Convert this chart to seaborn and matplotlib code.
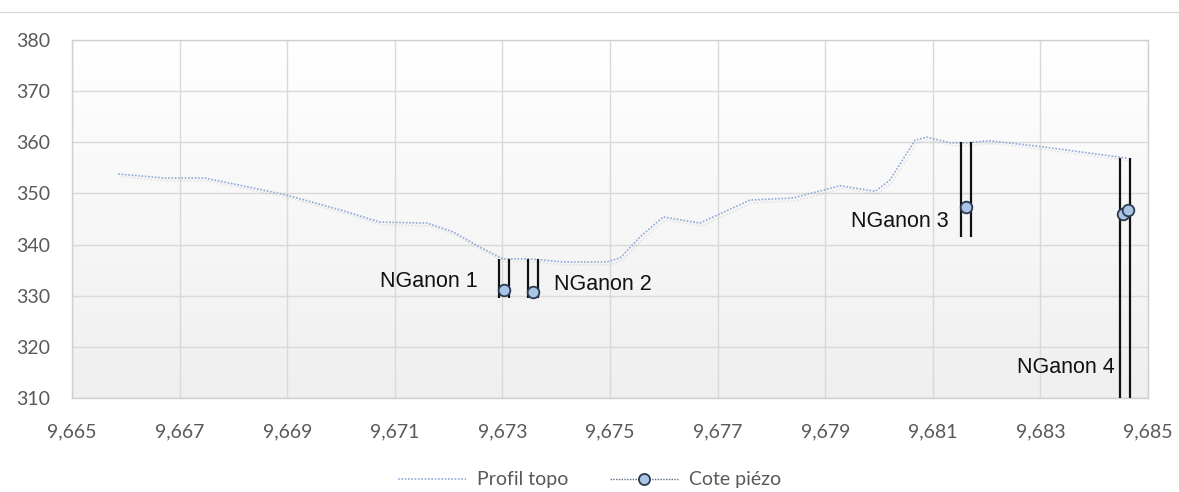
import numpy as np
import pandas as pd
import matplotlib
matplotlib.use("Agg")
import matplotlib.pyplot as plt
import matplotlib.patheffects as pe
import matplotlib.transforms as mtrans
from matplotlib.lines import Line2D
from matplotlib.ticker import FuncFormatter
import seaborn as sns

# Ground profile (distance, elevation)
profil_x = [9665.86, 9666.73, 9667.47, 9668.12, 9668.98, 9669.98, 9670.72, 9671.60,
            9672.08, 9672.58, 9673.01, 9673.51, 9674.13, 9674.94, 9675.19, 9675.56,
            9675.99, 9676.67, 9677.60, 9678.40, 9679.28, 9679.93, 9680.20, 9680.67,
            9680.89, 9681.32, 9681.64, 9682.06, 9683.05, 9684.61]
profil_z = [353.8, 353.0, 353.0, 351.6, 349.7, 346.8, 344.4, 344.2,
            342.5, 339.5, 337.2, 337.2, 336.6, 336.6, 337.4, 341.5,
            345.4, 344.2, 348.7, 349.1, 351.5, 350.4, 352.6, 360.4,
            361.0, 359.9, 359.9, 360.3, 359.1, 356.9]

# Piezometric levels
piezo_x = [9673.03, 9673.57, 9681.62, 9684.53, 9684.63]
piezo_z = [331.1, 330.7, 347.3, 346.0, 346.8]

# Wells: position, top and bottom elevation
puits_noms = ["NGanon 1", "NGanon 2", "NGanon 3", "NGanon 4"]
puits_x = [9673.03, 9673.57, 9681.62, 9684.58]
puits_haut = [337.2, 337.2, 360.1, 356.9]
puits_bas = [329.6, 329.6, 341.5, 300.0]

x_ticks = [9665, 9667, 9669, 9671, 9673, 9675, 9677, 9679, 9681, 9683, 9685]
y_ticks = [310, 320, 330, 340, 350, 360, 370, 380]

sns.set_style("white")
plt.rcParams["font.family"] = ["Lato", "DejaVu Sans"]

fig = plt.figure(figsize=(11.79, 4.92), dpi=100)
ax = fig.add_axes([72 / 1179, 1 - 398 / 492, (1148 - 72) / 1179, (398 - 40) / 492])

# soft vertical gradient behind the plot area
grad = np.linspace(1.0, 0.0, 256).reshape(-1, 1)
ax.imshow(grad, extent=[0, 1, 0, 1], transform=ax.transAxes, aspect="auto",
          cmap=matplotlib.colors.LinearSegmentedColormap.from_list("bg", ["#efefef", "#ffffff"]),
          zorder=0)

df_profil = pd.DataFrame({"x": profil_x, "z": profil_z})
df_piezo = pd.DataFrame({"x": piezo_x, "z": piezo_z})

sns.lineplot(data=df_profil, x="x", y="z", ax=ax, color="#8eaad6", lw=1.2,
             linestyle=(0, (1, 1)), sort=False, zorder=3,
             path_effects=[pe.SimpleLineShadow(offset=(1.5, -2), alpha=0.12, shadow_color="#555555"),
                           pe.Normal()])

# well casings: two parallel lines around each well axis
dx = 5 * 72 / 100  # half spacing in points
for side in (-1, 1):
    tr = mtrans.offset_copy(ax.transData, fig=fig, x=side * dx, y=0, units="points")
    ax.vlines(puits_x, puits_bas, puits_haut, colors="#111111", lw=1.6, transform=tr, zorder=4)

sns.scatterplot(data=df_piezo, x="x", y="z", ax=ax, s=70, color="#aac4e6",
                edgecolor="#2b3a4e", linewidth=1.3, zorder=5)

# well names
offsets = [(-26, 9, "right"), (21, 8, "left"), (-18, -14, "right"), (-13, -158, "right")]
idx_pt = [0, 1, 2, 4]
for nom, i, (ox, oy, ha) in zip(puits_noms, idx_pt, offsets):
    ax.annotate(nom, (piezo_x[i], piezo_z[i]), xytext=(ox * 0.72, oy * 0.72),
                textcoords="offset points", ha=ha, va="center", fontsize=15.5,
                family=["Liberation Sans"], color="#111111", zorder=6)

ax.set_xlim(9665, 9685)
ax.set_ylim(310, 380)
ax.set_xticks(x_ticks)
ax.set_yticks(y_ticks)
ax.xaxis.set_major_formatter(FuncFormatter(lambda v, p: f"{v:,.0f}"))
ax.grid(True, color="#d9d9d9", lw=1, zorder=1)
ax.set_axisbelow(True)
for s in ax.spines.values():
    s.set_color("#d0d0d0")
    s.set_linewidth(1)
ax.tick_params(axis="both", length=0, labelsize=14, colors="#595959")
ax.tick_params(axis="y", pad=16)
ax.tick_params(axis="x", pad=18)
ax.set_xlabel("")
ax.set_ylabel("")

# top border line of the chart area
fig.add_artist(Line2D([0, 1], [1 - 12 / 492, 1 - 12 / 492], transform=fig.transFigure,
                      color="#d9d9d9", lw=1))

handles = [
    Line2D([], [], color="#8eaad6", lw=1.2, linestyle=(0, (1, 1))),
    Line2D([], [], color="#5a6b80", lw=1.0, linestyle=(0, (1, 1)), marker="o",
           markersize=8, markerfacecolor="#aac4e6", markeredgecolor="#2b3a4e", markeredgewidth=1.3),
]
leg = fig.legend(handles, ["Profil topo", "Cote piézo"], loc="center", bbox_to_anchor=(0.5, 1 - 480 / 492),
                 ncol=2, frameon=False, handlelength=3.5, columnspacing=2.1, handletextpad=0.6,
                 fontsize=14)
for t in leg.get_texts():
    t.set_color("#595959")

fig.savefig("out.png", dpi=100)
